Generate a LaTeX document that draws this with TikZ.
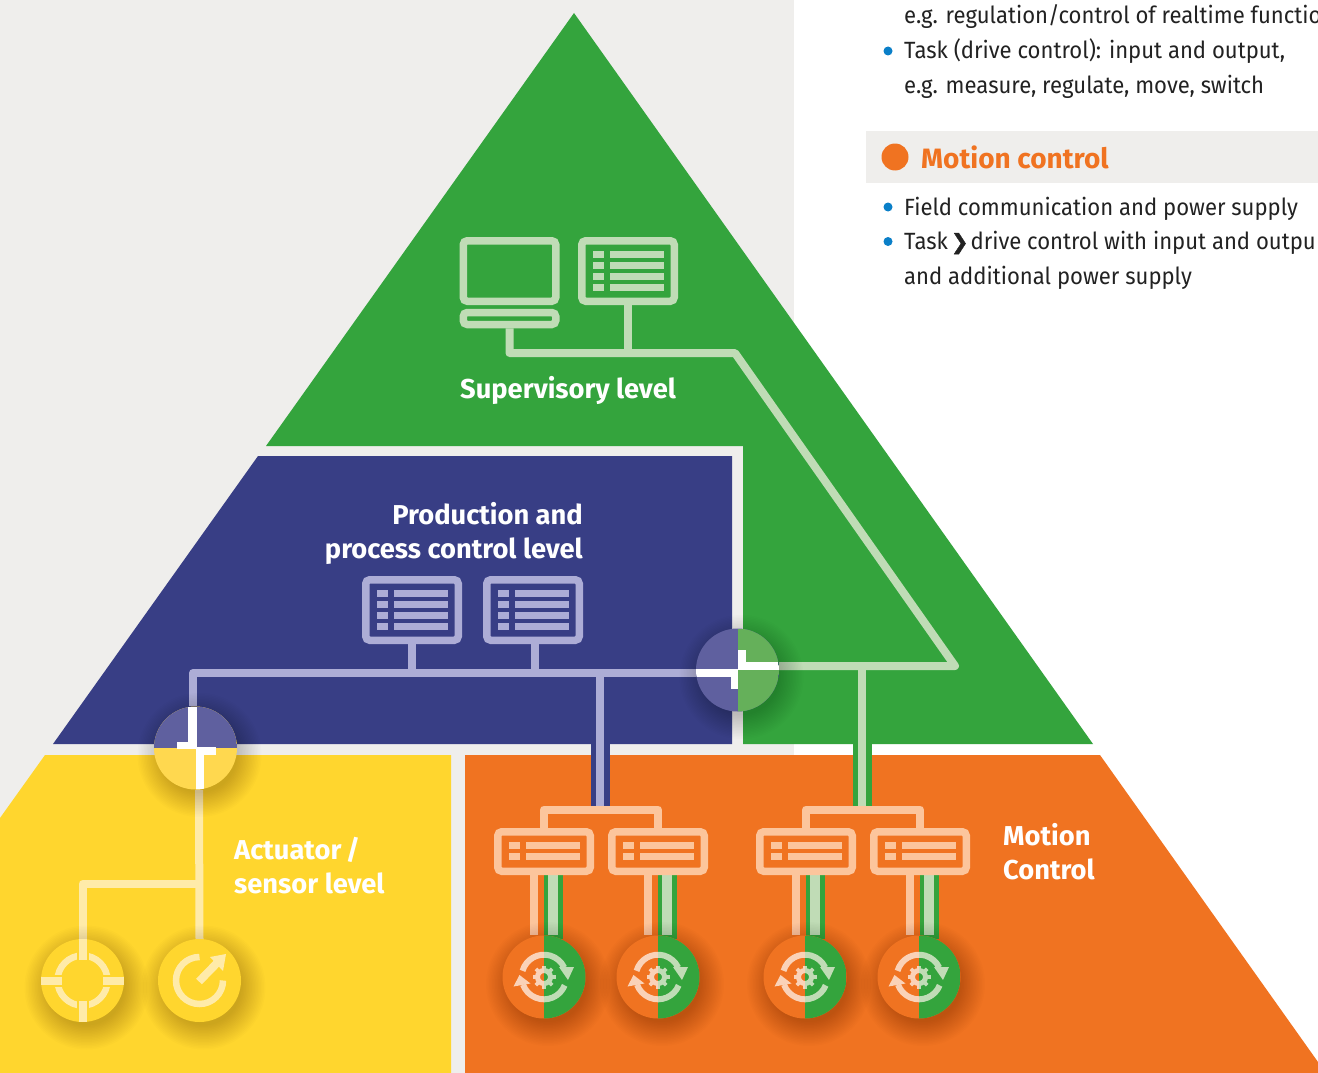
\documentclass[tikz,border=0pt]{standalone}
\usepackage{fontspec}
\setmainfont{Fira Sans}
\newfontfamily\bodyfont[FakeStretch=0.94]{Fira Sans}
\newfontfamily\symfont[FakeBold=2]{DejaVu Sans}
\definecolor{pgrey}{HTML}{EFEEEC}
\definecolor{pgreen}{HTML}{34A43D}
\definecolor{pblue}{HTML}{383E85}
\definecolor{pyellow}{HTML}{FFD62E}
\definecolor{porange}{HTML}{F07321}
\definecolor{lgreen}{HTML}{C0DCB6}
\definecolor{lblue}{HTML}{ADADD6}
\definecolor{lyellow}{HTML}{FFEBA9}
\definecolor{lorange}{HTML}{FCC59C}
\definecolor{hblue}{HTML}{5F609F}
\definecolor{hgreen}{HTML}{65B05A}
\definecolor{hyellow}{HTML}{FFD84F}
\definecolor{pbullet}{HTML}{0A7FC8}
\definecolor{ptext}{HTML}{222222}
\tikzset{
  x=1pt,y=-1pt,
  conn/.style={line width=8pt,line join=round},
  boxbase/.style={rectangle,rounded corners=4pt,inner sep=0pt,line width=7.5pt,fill=none},
  listbox/.style={boxbase,minimum width=92.5pt,minimum height=60.5pt},
  widebox/.style={boxbase,minimum width=92.5pt,minimum height=39.5pt},
  hub/.style={circle,inner sep=0pt,minimum size=83pt},
  halfgreen/.style={hub,fill=porange,path picture={\fill[pgreen] (path picture bounding box.north) rectangle (path picture bounding box.south east);}},
  lab/.style={anchor=base west,inner sep=0pt,text=white,font=\fontsize{27.3}{27.3}\selectfont\fontseries{sb}\selectfont},
  labr/.style={lab,anchor=base east},
  body/.style={anchor=base west,inner sep=0pt,text=ptext,font=\bodyfont\fontsize{23.5}{23.5}\selectfont},
  dotb/.style={circle,fill=pbullet,inner sep=0pt,minimum size=9pt},
}
\newcommand\listrows[2]{%
  \foreach \yy in {-20,-9,2,13}{%
    \fill[#2] ([shift={(-35,\yy)}]#1.center) rectangle ++(11,7);
    \fill[#2] ([shift={(-18,\yy)}]#1.center) rectangle ++(54,7);
  }}
\newcommand\widerows[2]{%
  \foreach \yy in {-9.5,1.5}{%
    \fill[#2] ([shift={(-35,\yy)}]#1.center) rectangle ++(11,7);
    \fill[#2] ([shift={(-18,\yy)}]#1.center) rectangle ++(54,7);
  }}
\newcommand\softshadow[1]{%
  \foreach \rr in {38,39.5,...,62}{%
    \fill[black,opacity=.012] ([shift={(4,7)}]#1.center) circle[radius=\rr];
  }}
\newcommand\driveicon[1]{%
  \draw[#1,line width=6pt] (0,0) ++(-164:22.3) arc[start angle=-164,end angle=-25,radius=22.3];
  \draw[#1,line width=6pt] (0,0) ++(22:22.3) arc[start angle=22,end angle=160,radius=22.3];
  \fill[#1] (-30.5,9.5) -- (-24.5,-2) -- (-13.5,6.5) -- cycle;
  \fill[#1] (30,-10) -- (15,-10) -- (24,3) -- cycle;
  \draw[#1,line width=5pt] (0,0) circle[radius=6.5];
  \foreach \aa in {0,45,...,315}{\draw[#1,line width=3.6pt] (\aa:8) -- (\aa:11.5);}
}
\newcommand\driveunit[1]{%
  \begin{scope}[shift={(#1.center)}]
    \begin{scope}\clip (-33,-30) rectangle (0,30);\driveicon{white!68!porange}\end{scope}
    \begin{scope}\clip (0,-30) rectangle (33,30);\driveicon{lgreen}\end{scope}
  \end{scope}}
\begin{document}
\begin{tikzpicture}
\useasboundingbox (0,0) rectangle (1318,1073);
% backgrounds
\fill[white] (0,0) rectangle (1318,1073);
\fill[pgrey] (0,0) rectangle (794,1073);
\fill[pgrey] (866,131) rectangle (1318,183);
% levels
\fill[pgreen] (574,13) -- (1093,744) -- (743,744) -- (743,446) -- (266,446) -- cycle;
\fill[pblue] (258,456) -- (732,456) -- (732,744) -- (53,744) -- cycle;
\fill[pyellow] (45,755) -- (451,755) -- (451,1073) -- (0,1073) -- (0,818) -- cycle;
\fill[porange] (465,755) -- (1100,755) -- (1318,1062) -- (1318,1073) -- (465,1073) -- cycle;
% nodes
\node[boxbase,draw=lgreen,minimum width=92.5pt,minimum height=60.5pt] (mon) at (509.5,271) {};
\node[boxbase,draw=lgreen,minimum width=92.5pt,minimum height=12pt] (kb) at (509.5,318.5) {};
\node[listbox,draw=lgreen] (sup) at (628,271) {};
\node[listbox,draw=lblue] (pa) at (412,610) {};
\node[listbox,draw=lblue] (pb) at (533,610) {};
\node[hub] (hr) at (737.5,670) {};
\node[hub] (hl) at (195.5,748) {};
\node[hub] (sa) at (82.5,980.5) {};
\node[hub] (sb) at (199.5,980.5) {};
\node[hub] (da) at (544,977) {};
\node[hub] (db) at (658,977) {};
\node[hub] (dc) at (805,977) {};
\node[hub] (dd) at (919,977) {};
\node[widebox] (ma) at (544,851.5) {};
\node[widebox] (mb) at (658,851.5) {};
\node[widebox] (mc) at (806,851.5) {};
\node[widebox] (md) at (920,851.5) {};
\coordinate (gc) at (735,353);
\coordinate (gd) at (955,666);
\coordinate (ge) at (862,666);
\coordinate (be) at (193,673);
\coordinate (bf) at (600,673);
\coordinate (ye) at (199,884);
\coordinate (pt1) at (600,809.5);
\coordinate (pt2) at (862,809.5);
% field-bus bands across the orange level
\draw[pblue,line width=19pt] (600,744) -- (pt1);
\draw[pgreen,line width=19pt] (862,744) -- (pt2);
\foreach \nn/\dd in {ma/da,mb/db,mc/dc,md/dd}{%
  \draw[pgreen,line width=19pt] ([xshift=9pt]\nn.south) -- ([xshift=9pt,yshift=-4pt]\nn.south |- \dd.north);
}
% connectors
\draw[conn,lgreen] (kb.south) |- (gc) -- (gd) -- ([yshift=4pt]hr.east);
\draw[conn,lgreen] (sup.south) -- (sup.south |- gc);
\draw[conn,lgreen] (ge) -- (pt2);
\draw[conn,lblue] (hr.west |- be) -| (hl.north -| be);
\draw[conn,lblue] (pa.south) -- (pa.south |- be);
\draw[conn,lblue] ([xshift=2pt]pb.south) -- ([xshift=2pt]pb.south |- be);
\draw[conn,lblue] (bf) -- (pt1);
\draw[conn,lyellow] (199,790) -- (sb.north);
\draw[conn,lyellow] (ye) -| (sa.north);
\draw[conn,lorange] (ma.north) |- (pt1) -| (mb.north);
\draw[conn,lorange] (mc.north) |- (pt2) -| (md.north);
\foreach \nn/\dd in {ma/da,mb/db,mc/dc,md/dd}{%
  \draw[conn,lorange] ([xshift=-10pt]\nn.south) -- ([xshift=-10pt]\nn.south |- \dd.north);
  \draw[lgreen,line width=9.5pt] ([xshift=9pt]\nn.south) -- ([xshift=9pt]\nn.south |- \dd.north);
}
% boxes over the connector ends
\foreach \nn in {ma,mb,mc,md}{%
  \node[widebox,draw=lorange] at (\nn) {};
  \widerows{\nn}{lorange}
}
\listrows{sup}{lgreen}
\listrows{pa}{lblue}
\listrows{pb}{lblue}
% shadows
\foreach \nn in {hr,hl,sa,sb,da,db,dc,dd}{\softshadow{\nn}}
% hubs
\node[hub,fill=hblue,path picture={\fill[hgreen] (path picture bounding box.north) rectangle (path picture bounding box.south east);}] at (hr) {};
\node[hub,fill=hyellow,path picture={\fill[hblue] (path picture bounding box.north west) rectangle (path picture bounding box.east);}] at (hl) {};
\node[hub,fill=pyellow] at (sa) {};
\node[hub,fill=pyellow] at (sb) {};
\foreach \nn in {da,db,dc,dd}{\node[halfgreen] at (\nn) {};\driveunit{\nn}}
% white routing marks in the hubs
\begin{scope}[shift={(hr.center)}]
  \begin{scope}
  \clip (0,0) circle[radius=41.5];
  \fill[white] (0,-8) rectangle (41.5,0);
  \fill[white] (0,-20) rectangle (8,0);
  \fill[white] (-41.5,-1) rectangle (0.5,7);
  \fill[white] (-7,7) rectangle (0.5,19);
  \end{scope}
\end{scope}
\begin{scope}[shift={(hl.center)}]
  \begin{scope}
  \clip (0,0) circle[radius=41.5];
  \fill[white] (-7.5,-41.5) rectangle (1,1);
  \fill[white] (-18.5,-6) rectangle (1,1);
  \fill[white] (0.5,-1) rectangle (8.5,41.5);
  \fill[white] (0.5,-1) rectangle (20.5,7);
  \end{scope}
\end{scope}
% sensor icons
\begin{scope}[shift={(sa.center)}]
  \draw[lyellow,line width=6.5pt] (0,0) circle[radius=25];
  \foreach \aa in {0,90,180,270}{%
    \draw[pyellow,line width=12pt] (\aa:18) -- (\aa:32);
    \draw[lyellow,line width=8pt] (\aa:20.5) -- (\aa:41.5);
  }
\end{scope}
\begin{scope}[shift={(sb.center)}]
  \draw[lyellow,line width=6.5pt] (0,-23.5) arc[start angle=-90,end angle=-360,radius=23.5];
  \draw[lyellow,line width=8pt] (-0.5,1) -- (18,-18);
  \fill[lyellow] (26.5,-26.5) -- (10.5,-23.5) -- (23.5,-9.5) -- cycle;
\end{scope}
% level labels
\node[lab] (t1) at (460,398) {Supervisory level};
\node[labr] (t2) at (583,524) {Production and};
\node[labr] (t3) at (583,558) {process control level};
\node[lab] (t4) at (234,859) {Actuator\,/};
\node[lab] (t5) at (234,893) {sensor level};
\node[lab] (t6) at (1003,845) {Motion};
\node[lab] (t7) at (1003,879) {Control};
% right-hand text
\node[dotb] (b1) at (888,51) {};
\node[dotb] (b2) at (888,207) {};
\node[dotb] (b3) at (888,241.5) {};
\node[body] (r1) at (904,24) {e.g. regulation/control of realtime functio};
\node[body] (r2) at (904,59) {Task (drive control): input and output,};
\node[body] (r3) at (904,93) {e.g. measure, regulate, move, switch};
\node[circle,fill=porange,inner sep=0pt,minimum size=27pt] (hd) at (895,157) {};
\node[anchor=base west,inner sep=0pt,text=porange,font=\fontsize{28}{28}\selectfont\fontseries{sb}\selectfont] (r4) at (921,168) {Motion control};
\node[body] (r5) at (904,215) {Field communication and power supply};
\node[body] (r6) at (904,249) {Task\hspace{3pt}{\symfont\fontsize{21}{21}\selectfont ❯}\hspace{2pt}drive control with input and outpu};
\node[body] (r7) at (904,284) {and additional power supply};
\end{tikzpicture}
\end{document}
